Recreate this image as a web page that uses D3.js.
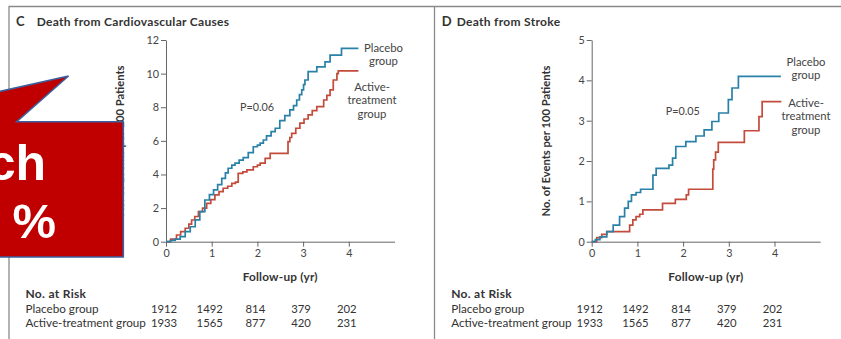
<!DOCTYPE html>
<html>
<head>
<meta charset="utf-8">
<script src="https://cdn.jsdelivr.net/npm/d3@7"></script>
<style>
  body { margin: 0; background: #fff; }
  svg { display: block; font-family: Lato, 'Open Sans', sans-serif; }
</style>
</head>
<body>
<svg id="chart" width="841" height="339"></svg>
<script>
// data
const years = [0, 1, 2, 3, 4]
const cvTicks = [0, 2, 4, 6, 8, 10, 12]
const strokeTicks = [0, 1, 2, 3, 4, 5]

// [year, events per 100 patients]
const cvPlacebo = [[0, 0], [0.1, 0.08], [0.2, 0.15], [0.31, 0.3], [0.42, 0.6], [0.53, 0.89], [0.64, 1.3],
  [0.74, 1.79], [0.85, 2.48], [0.95, 2.8], [1.04, 3.08], [1.13, 3.4], [1.22, 3.77], [1.3, 4.1], [1.36, 4.37],
  [1.44, 4.55], [1.51, 4.67], [1.6, 4.85], [1.69, 5.0], [1.8, 5.3], [1.91, 5.65], [2.0, 5.75], [2.06, 5.86],
  [2.13, 6.05], [2.2, 6.3], [2.3, 6.55], [2.39, 6.75], [2.49, 7.2], [2.6, 7.5], [2.71, 7.84], [2.79, 8.1],
  [2.86, 8.43], [2.92, 8.75], [2.97, 9.03], [3.01, 9.35], [3.04, 9.62], [3.11, 10.12], [3.3, 10.4],
  [3.48, 10.7], [3.59, 11.1], [3.84, 11.5], [4.21, 11.5]]
const cvActive = [[0, 0], [0.1, 0.15], [0.23, 0.4], [0.32, 0.6], [0.42, 0.8], [0.5, 1.05], [0.56, 1.29],
  [0.63, 1.5], [0.71, 1.79], [0.8, 2.0], [0.89, 2.28], [0.98, 2.5], [1.07, 2.78], [1.16, 2.98], [1.25, 3.18],
  [1.35, 3.3], [1.44, 3.47], [1.52, 3.55], [1.58, 4.07], [1.68, 4.15], [1.77, 4.27], [1.91, 4.46], [2.0, 4.55],
  [2.06, 4.67], [2.17, 4.96], [2.28, 5.26], [2.67, 5.95], [2.71, 6.2], [2.75, 6.45], [2.84, 6.75], [2.93, 7.05],
  [3.02, 7.3], [3.11, 7.54], [3.2, 7.8], [3.3, 8.04], [3.45, 8.43], [3.52, 8.7], [3.59, 9.03], [3.66, 9.62],
  [3.74, 10.0], [3.77, 10.16], [4.21, 10.16]]
const strokePlacebo = [[0, 0], [0.08, 0.05], [0.18, 0.12], [0.33, 0.25], [0.47, 0.41], [0.61, 0.62],
  [0.72, 0.83], [0.8, 1.0], [0.87, 1.16], [0.97, 1.22], [1.07, 1.3], [1.34, 1.65], [1.41, 1.82], [1.69, 1.9],
  [1.77, 2.07], [1.84, 2.36], [2.06, 2.48], [2.28, 2.62], [2.46, 2.77], [2.63, 2.98], [2.78, 3.19],
  [2.99, 3.52], [3.07, 3.81], [3.21, 4.1], [4.14, 4.1]]
const strokeActive = [[0, 0], [0.11, 0.1], [0.22, 0.18], [0.33, 0.25], [0.83, 0.41], [0.9, 0.54],
  [0.97, 0.62], [1.05, 0.68], [1.12, 0.79], [1.55, 0.95], [1.83, 1.05], [2.07, 1.16], [2.12, 1.3],
  [2.65, 1.8], [2.67, 2.03], [2.71, 2.22], [2.77, 2.46], [3.34, 2.75], [3.66, 3.1], [3.73, 3.47], [4.15, 3.47]]

const riskGroups = ['Placebo group', 'Active-treatment group']
const riskPlacebo = [1912, 1492, 814, 379, 202]
const riskActive = [1933, 1565, 877, 420, 231]

const blue = '#2a81a8'
const red = '#c24b3b'
const ink = '#333'

const svg = d3.select('#chart')

// frame lines
svg.append('path')
  .attr('d', 'M9,339V6.5H841M434.5,6.5V339')
  .attr('fill', 'none')
  .attr('stroke', '#8a8a8a')
  .attr('stroke-width', 1.3)

const panels = [
  {
    dx: 0, letter: 'C', title: 'Death from Cardiovascular Causes', titleX: 36.7,
    yMax: 12, yTicks: cvTicks, placebo: cvPlacebo, active: cvActive, p: 'P=0.06',
    pPos: [257, 111], placeboLab: [383.5, 51.5], activeLab: [372, 91]
  },
  {
    dx: 425.7, letter: 'D', title: 'Death from Stroke', titleX: 31,
    yMax: 5, yTicks: strokeTicks, placebo: strokePlacebo, active: strokeActive, p: 'P=0.05',
    pPos: [257, 115], placeboLab: [380.3, 65.5], activeLab: [380.3, 107]
  }
]

panels.forEach(drawPanel)

function drawPanel(cfg) {
  const g = svg.append('g').attr('transform', `translate(${cfg.dx},0)`)

  const x = d3.scaleLinear().domain([0, 5]).range([166, 394.5])
  const y = d3.scaleLinear().domain([0, cfg.yMax]).range([241.7, 40])

  // title
  g.append('text')
    .attr('x', 16).attr('y', 25.5)
    .attr('font-size', 13).attr('font-weight', 'bold').attr('fill', ink)
    .text(cfg.letter)
  g.append('text')
    .attr('x', cfg.titleX).attr('y', 25.5)
    .attr('font-size', 12).attr('font-weight', 'bold').attr('fill', ink)
    .attr('letter-spacing', 0.3)
    .text(cfg.title)

  // axes
  const yAxis = g.append('g')
    .attr('transform', `translate(${x(0)},0)`)
    .call(d3.axisLeft(y).tickValues(cfg.yTicks).tickFormat(d3.format('d'))
      .tickSize(5).tickSizeOuter(0).tickPadding(2))
  const xAxis = g.append('g')
    .attr('transform', `translate(0,${y(0)})`)
    .call(d3.axisBottom(x).tickValues(years).tickFormat(d3.format('d'))
      .tickSize(5).tickSizeOuter(0).tickPadding(3))
  ;[yAxis, xAxis].forEach(a => {
    a.selectAll('path, line').attr('stroke', '#666')
    a.selectAll('text').attr('fill', '#444').attr('font-size', 10.8).attr('font-family', 'Lato, sans-serif')
  })

  g.append('text')
    .attr('transform', 'translate(124,141) rotate(-90)')
    .attr('text-anchor', 'middle')
    .attr('font-size', 11.2).attr('font-weight', 'bold').attr('fill', ink)
    .text('No. of Events per 100 Patients')

  g.append('text')
    .attr('x', (x.range()[0] + x.range()[1]) / 2).attr('y', 281)
    .attr('text-anchor', 'middle')
    .attr('font-size', 11.8).attr('font-weight', 'bold').attr('fill', ink)
    .attr('letter-spacing', 0.2)
    .text('Follow-up (yr)')

  // curves
  const line = d3.line()
    .x(d => x(d[0]))
    .y(d => y(d[1]))
    .curve(d3.curveStepAfter)

  g.append('path').datum(cfg.active)
    .attr('d', line).attr('fill', 'none').attr('stroke', red).attr('stroke-width', 1.7)
  g.append('path').datum(cfg.placebo)
    .attr('d', line).attr('fill', 'none').attr('stroke', blue).attr('stroke-width', 1.7)

  // labels
  const labels = [
    { pos: cfg.placeboLab, lines: ['Placebo', 'group'] },
    { pos: cfg.activeLab, lines: ['Active-', 'treatment', 'group'] }
  ]
  labels.forEach(l => {
    g.append('g').selectAll('text')
      .data(l.lines)
      .join('text')
      .attr('x', l.pos[0])
      .attr('y', (d, i) => l.pos[1] + i * 13.3)
      .attr('text-anchor', 'middle')
      .attr('font-size', 11.3).attr('fill', '#444')
      .text(d => d)
  })

  g.append('text')
    .attr('x', cfg.pPos[0]).attr('y', cfg.pPos[1])
    .attr('text-anchor', 'middle')
    .attr('font-size', 10.8).attr('fill', '#444')
    .text(cfg.p)

  // number at risk
  g.append('text')
    .attr('x', 25.5).attr('y', 298)
    .attr('font-size', 12).attr('font-weight', 'bold').attr('fill', ink)
    .attr('letter-spacing', 0.3)
    .text('No. at Risk')

  const rows = [riskPlacebo, riskActive]
  rows.forEach((row, i) => {
    const yy = 313.3 + i * 13.7
    g.append('text')
      .attr('x', 25.5).attr('y', yy)
      .attr('font-size', 11.7).attr('fill', ink)
      .text(riskGroups[i])
    g.append('g').selectAll('text')
      .data(row)
      .join('text')
      .attr('x', (d, j) => x(years[j]) - 2)
      .attr('y', yy)
      .attr('text-anchor', 'middle')
      .attr('font-size', 11.3).attr('fill', ink)
      .text(d => d)
  })
}

// red callout on top
const callout = svg.append('g')
callout.append('path')
  .attr('d', 'M-5,92.5L68.5,76L16.7,121.7H123.3V257H-5Z')
  .attr('fill', '#c00000')
  .attr('stroke', '#3c5f9e')
  .attr('stroke-width', 1.6)
  .attr('stroke-linejoin', 'miter')
callout.append('text')
  .attr('x', 46).attr('y', 179.5)
  .attr('text-anchor', 'end')
  .attr('font-family', "'Liberation Sans', Arial, sans-serif")
  .attr('font-size', 50).attr('font-weight', 'bold').attr('fill', '#fff')
  .text('ch')
callout.append('text')
  .attr('x', 56).attr('y', 238)
  .attr('text-anchor', 'end')
  .attr('font-family', "'Liberation Sans', Arial, sans-serif")
  .attr('font-size', 49).attr('font-weight', 'bold').attr('fill', '#fff')
  .text('%')
</script>
</body>
</html>
